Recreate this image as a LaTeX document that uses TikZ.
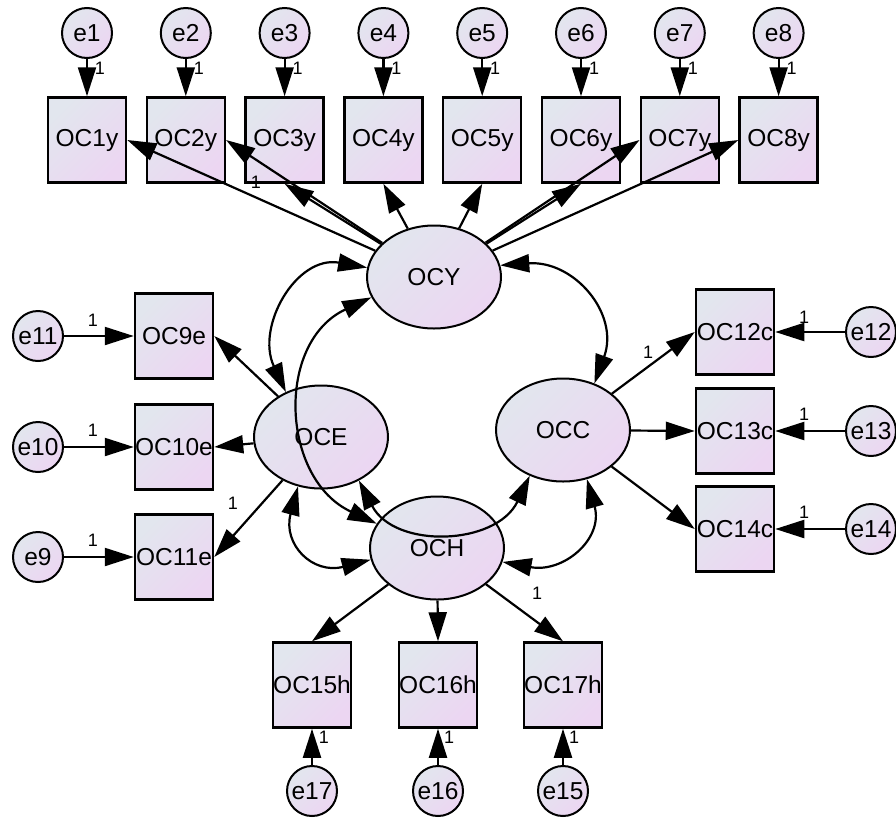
\documentclass[tikz,border=0pt]{standalone}
\usepackage{fontspec}
\setmainfont{Liberation Sans}
\usetikzlibrary{shapes.geometric,arrows.meta}
\definecolor{fillA}{RGB}{226,230,238}
\definecolor{fillB}{RGB}{236,214,242}
\begin{document}
\begin{tikzpicture}[x=1pt,y=-1pt,
  grad/.style={top color=fillA, bottom color=fillB, shading angle=45},
  obs/.style={draw, line width=2.5pt, grad, minimum width=78pt, minimum height=85pt,
    inner sep=0pt, font=\fontsize{24.5}{28}\selectfont},
  err/.style={circle, draw, line width=2pt, grad, minimum size=50pt, inner sep=0pt,
    font=\fontsize{24.5}{28}\selectfont},
  lat/.style={ellipse, draw, line width=2pt, grad, minimum width=134pt,
    minimum height=103pt, inner sep=0pt, font=\fontsize{24.5}{28}\selectfont},
  arr/.style={line width=2.2pt, -{Triangle[length=29pt,width=18pt]}},
  cov/.style={line width=2.2pt,
    {Triangle[length=29pt,width=18pt]}-{Triangle[length=29pt,width=18pt]}},
  one/.style={font=\fontsize{18}{20}\selectfont, inner sep=0pt}
]
\useasboundingbox (0,0) rectangle (896,817);

% latent variables
\node[lat] (ocy) at (434,277) {OCY};
\node[lat] (oce) at (321,437) {OCE};
\node[lat] (occ) at (563,430) {OCC};
\node[lat] (och) at (437,548) {OCH};

% top row: indicators of OCY with their errors
\foreach \i in {1,...,8} {
  \pgfmathsetmacro\xx{87+98.8*(\i-1)}
  \node[err] (e\i) at (\xx,33) {e\i};
  \node[obs] (oc\i) at (\xx,140) {OC\i y};
  \draw[arr] (e\i) -- (oc\i.north);
  \node[one] at (\xx+13,68) {1};
}

% left: indicators of OCE
\node[obs] (oc9)  at (174,336) {OC9e};
\node[obs] (oc10) at (174,447) {OC10e};
\node[obs] (oc11) at (174,557) {OC11e};
\node[err] (e11) at (38,336) {e11};
\node[err] (e10) at (38,447) {e10};
\node[err] (e9)  at (38,557) {e9};

% right: indicators of OCC
\node[obs] (oc12) at (735,332) {OC12c};
\node[obs] (oc13) at (735,431) {OC13c};
\node[obs] (oc14) at (735,529) {OC14c};
\node[err] (e12) at (871,332) {e12};
\node[err] (e13) at (871,431) {e13};
\node[err] (e14) at (871,529) {e14};

% bottom: indicators of OCH
\node[obs] (oc15) at (312,685) {OC15h};
\node[obs] (oc16) at (438,685) {OC16h};
\node[obs] (oc17) at (563,685) {OC17h};
\node[err] (e17) at (312,791) {e17};
\node[err] (e16) at (438,791) {e16};
\node[err] (e15) at (563,791) {e15};

% error terms
\draw[arr] (e11) -- (oc9.west);
\draw[arr] (e10) -- (oc10.west);
\draw[arr] (e9)  -- (oc11.west);
\draw[arr] (e12) -- (oc12.east);
\draw[arr] (e13) -- (oc13.east);
\draw[arr] (e14) -- (oc14.east);
\draw[arr] (e17) -- (oc15.south);
\draw[arr] (e16) -- (oc16.south);
\draw[arr] (e15) -- (oc17.south);

% loadings
\draw[arr] (ocy) -- (oc1.east);
\draw[arr] (ocy) -- (oc2.east);
\draw[arr] (ocy) -- (oc3.south);
\draw[arr] (ocy) -- (oc4.south);
\draw[arr] (ocy) -- (oc5.south);
\draw[arr] (ocy) -- (oc6.south);
\draw[arr] (ocy) -- (oc7.west);
\draw[arr] (ocy) -- (oc8.west);
\draw[arr] (oce) -- (oc9.east);
\draw[arr] (oce) -- (oc10.east);
\draw[arr] (oce) -- (oc11.east);
\draw[arr] (occ) -- (oc12.west);
\draw[arr] (occ) -- (oc13.west);
\draw[arr] (occ) -- (oc14.west);
\draw[arr] (och) -- (oc15.north);
\draw[arr] (och) -- (oc16.north);
\draw[arr] (och) -- (oc17.north);

% covariances
\draw[cov] (ocy.172) .. controls +(170:72pt) and +(115:72pt) .. (oce.128);
\draw[cov] (ocy.198) .. controls +(205:106pt) and +(155:106pt) .. (och.158);
\draw[cov] (ocy.10) .. controls +(4:74pt) and +(70:74pt) .. (occ.56);
\draw[cov] (oce.245) .. controls +(255:60pt) and +(194.5:60pt) .. (och.190);
\draw[cov] (oce.311) .. controls +(297.6:77.5pt) and +(244.5:77.5pt) .. (occ.234);
\draw[cov] (och.348) .. controls +(-10.5:62pt) and +(285.6:62pt) .. (occ.296);

% fixed parameters
\node[one] at (256,182) {1};
\node[one] at (93,320) {1};
\node[one] at (93,430) {1};
\node[one] at (93,540) {1};
\node[one] at (233,503) {1};
\node[one] at (648,352) {1};
\node[one] at (804,317) {1};
\node[one] at (804,414) {1};
\node[one] at (804,512) {1};
\node[one] at (537,593) {1};
\node[one] at (324,737) {1};
\node[one] at (449,737) {1};
\node[one] at (574,737) {1};
\end{tikzpicture}
\end{document}
